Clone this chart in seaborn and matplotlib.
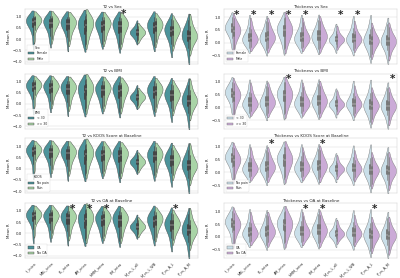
import numpy as np
import pandas as pd
import seaborn as sns
import matplotlib
matplotlib.use("Agg")
import matplotlib.pyplot as plt

REGIONS = ['lt_intra', 'MBL_intra', 'PL_intra', 'AM_intra', 'MMM_intra', 'PM_intra',
           'M_vs_L_all', 'M_vs_L_WB', 'P_vs_A_L', 'P_vs_A_M']

# T2 mean R per region, first group / second group
T2_A = [
    [-0.25, 0.2, 0.45, 0.6, 0.7, 0.75, 0.8, 0.85, 0.9, 0.95, 1.0, 1.05],
    [-0.15, 0.15, 0.4, 0.55, 0.65, 0.72, 0.8, 0.85, 0.9, 0.95, 1.05],
    [-0.3, 0.1, 0.35, 0.5, 0.6, 0.68, 0.75, 0.82, 0.88, 0.95, 1.0],
    [-0.3, -0.05, 0.15, 0.3, 0.45, 0.55, 0.65, 0.75, 0.85, 0.95, 1.05],
    [-0.2, 0.05, 0.25, 0.4, 0.5, 0.6, 0.68, 0.75, 0.82, 0.9, 1.0],
    [-0.35, -0.05, 0.2, 0.35, 0.48, 0.58, 0.66, 0.74, 0.82, 0.9, 0.98],
    [-0.1, 0.1, 0.18, 0.24, 0.28, 0.32, 0.36, 0.42, 0.5, 0.7],
    [-0.3, 0.0, 0.2, 0.35, 0.45, 0.55, 0.62, 0.7, 0.78, 0.88, 1.0],
    [-0.55, -0.2, 0.05, 0.2, 0.3, 0.38, 0.45, 0.52, 0.6, 0.72, 0.9],
    [-0.85, -0.4, -0.15, 0.0, 0.08, 0.15, 0.22, 0.3, 0.42, 0.6, 0.85],
]
T2_B = [
    [0.0, 0.4, 0.6, 0.7, 0.78, 0.82, 0.86, 0.9, 0.95, 1.0, 1.05],
    [0.0, 0.3, 0.5, 0.62, 0.7, 0.78, 0.85, 0.9, 0.95, 1.05],
    [-0.1, 0.2, 0.4, 0.55, 0.65, 0.72, 0.8, 0.85, 0.92, 1.0],
    [-0.2, 0.1, 0.3, 0.45, 0.55, 0.65, 0.72, 0.8, 0.9, 1.0, 1.1],
    [-0.1, 0.15, 0.35, 0.5, 0.6, 0.68, 0.75, 0.82, 0.9, 1.0],
    [-0.2, 0.1, 0.3, 0.45, 0.55, 0.65, 0.72, 0.8, 0.88, 0.95],
    [-0.05, 0.12, 0.2, 0.26, 0.3, 0.34, 0.4, 0.48, 0.6],
    [-0.15, 0.15, 0.35, 0.45, 0.55, 0.62, 0.7, 0.78, 0.85, 0.95],
    [-0.3, 0.0, 0.15, 0.28, 0.36, 0.42, 0.5, 0.58, 0.68, 0.85],
    [-0.5, -0.2, -0.05, 0.05, 0.1, 0.15, 0.2, 0.28, 0.4, 0.6, 0.9],
]

# Thickness mean R per region, first group / second group
TH_A = [
    [-0.1, 0.2, 0.35, 0.45, 0.52, 0.58, 0.62, 0.68, 0.75, 0.85, 1.0],
    [-0.2, -0.05, 0.02, 0.08, 0.12, 0.16, 0.22, 0.3, 0.42, 0.6, 0.9],
    [-0.3, -0.08, 0.02, 0.08, 0.14, 0.2, 0.26, 0.34, 0.45, 0.62, 0.85],
    [-0.25, 0.05, 0.2, 0.32, 0.42, 0.5, 0.56, 0.62, 0.7, 0.8, 0.98],
    [-0.2, -0.05, 0.03, 0.1, 0.15, 0.2, 0.26, 0.34, 0.45, 0.62, 0.9],
    [-0.25, -0.05, 0.06, 0.14, 0.2, 0.26, 0.32, 0.4, 0.5, 0.65, 0.9],
    [-0.25, -0.05, 0.03, 0.07, 0.1, 0.13, 0.16, 0.2, 0.28, 0.45, 0.6],
    [-0.3, -0.08, 0.02, 0.07, 0.11, 0.15, 0.2, 0.28, 0.4, 0.58, 0.85],
    [-0.55, -0.25, -0.1, -0.02, 0.04, 0.1, 0.16, 0.24, 0.35, 0.55, 0.85],
    [-0.6, -0.3, -0.12, -0.04, 0.02, 0.07, 0.12, 0.2, 0.32, 0.5, 0.75],
]
TH_B = [
    [-0.25, 0.05, 0.2, 0.32, 0.4, 0.46, 0.52, 0.58, 0.65, 0.75, 0.95],
    [-0.15, -0.02, 0.05, 0.1, 0.15, 0.2, 0.28, 0.38, 0.55, 0.8],
    [-0.2, 0.0, 0.08, 0.14, 0.2, 0.26, 0.34, 0.44, 0.58, 0.8],
    [-0.2, 0.05, 0.2, 0.3, 0.4, 0.48, 0.55, 0.62, 0.7, 0.82, 1.0],
    [-0.15, 0.0, 0.06, 0.12, 0.18, 0.24, 0.3, 0.4, 0.55, 0.8],
    [-0.2, 0.0, 0.1, 0.18, 0.24, 0.3, 0.38, 0.48, 0.62, 0.85],
    [-0.15, 0.0, 0.05, 0.09, 0.12, 0.15, 0.19, 0.25, 0.35, 0.55],
    [-0.2, -0.03, 0.04, 0.09, 0.13, 0.18, 0.24, 0.32, 0.46, 0.7],
    [-0.45, -0.2, -0.08, 0.0, 0.05, 0.1, 0.16, 0.24, 0.36, 0.6],
    [-0.5, -0.22, -0.1, -0.02, 0.03, 0.08, 0.14, 0.22, 0.34, 0.6],
]

FACTORS = ['Sex', 'BMI', 'KOOS', 'OA']
TITLES = ['Sex', 'BMI', 'KOOS Score at Baseline', 'OA at Baseline']
GROUPS = [['Female', 'Male'], ['< 30', '>= 30'], ['No pain', 'Pain'], ['OA', 'No OA']]
LEG_TITLE = ['Sex', 'BMI', 'KOOS', None]

# significant regions (index) per factor
SIG_T2 = [[5], [], [], [2, 3, 4, 8]]
SIG_TH = [[0, 1, 2, 3, 4, 6, 7], [3, 9], [2, 5], [4, 5, 8]]

PAL_T2 = ['#3f9da7', '#a2dba0']
PAL_TH = ['#c5e1ee', '#cea4de']


def make_df(list_a, list_b, groups):
    rows = []
    for r, reg in enumerate(REGIONS):
        for v in list_a[r]:
            rows.append((reg, groups[0], v))
        for v in list_b[r]:
            rows.append((reg, groups[1], v))
    return pd.DataFrame(rows, columns=['region', 'group', 'value'])


sns.set_theme(style='whitegrid')
fig, axes = plt.subplots(4, 2, figsize=(16, 11.12), dpi=25)
fig.subplots_adjust(left=0.0625, right=0.9925, top=0.968, bottom=0.072,
                    hspace=0.18, wspace=0.15)

for i, fac in enumerate(FACTORS):
    for j, (meas, la, lb, pal, sig, ylim, lc) in enumerate([
            ('T2', T2_A, T2_B, PAL_T2, SIG_T2[i], (-1.1, 1.35), '#444444'),
            ('Thickness', TH_A, TH_B, PAL_TH, SIG_TH[i], (-0.82, 1.32), '#777777')]):
        ax = axes[i, j]
        df = make_df(la, lb, GROUPS[i])
        sns.violinplot(data=df, x='region', y='value', hue='group', split=True,
                       inner='box', palette=pal, cut=1, bw_adjust=1.0,
                       density_norm='width', width=0.9,
                       linewidth=1.2, linecolor=lc, ax=ax)
        ax.set_ylim(ylim)
        ax.set_title('{} vs {}'.format(meas, TITLES[i]), fontsize=12, pad=4)
        ax.set_ylabel('Mean R', fontsize=11)
        ax.set_xlabel('')
        ax.tick_params(axis='y', labelsize=11, pad=2)
        for k in sig:
            ax.text(k + 0.22, 1.1, '*', fontsize=30, fontweight='bold',
                    ha='center', va='center')
        if i < 3:
            ax.set_xticklabels([])
        else:
            ax.set_xticklabels(REGIONS, rotation=45, ha='right', fontsize=10,
                               rotation_mode='anchor')
        leg = ax.legend(loc='lower left', fontsize=9, title=LEG_TITLE[i] if j == 0 else None,
                        title_fontsize=9, frameon=True)

plt.savefig('out.png', dpi=25)
